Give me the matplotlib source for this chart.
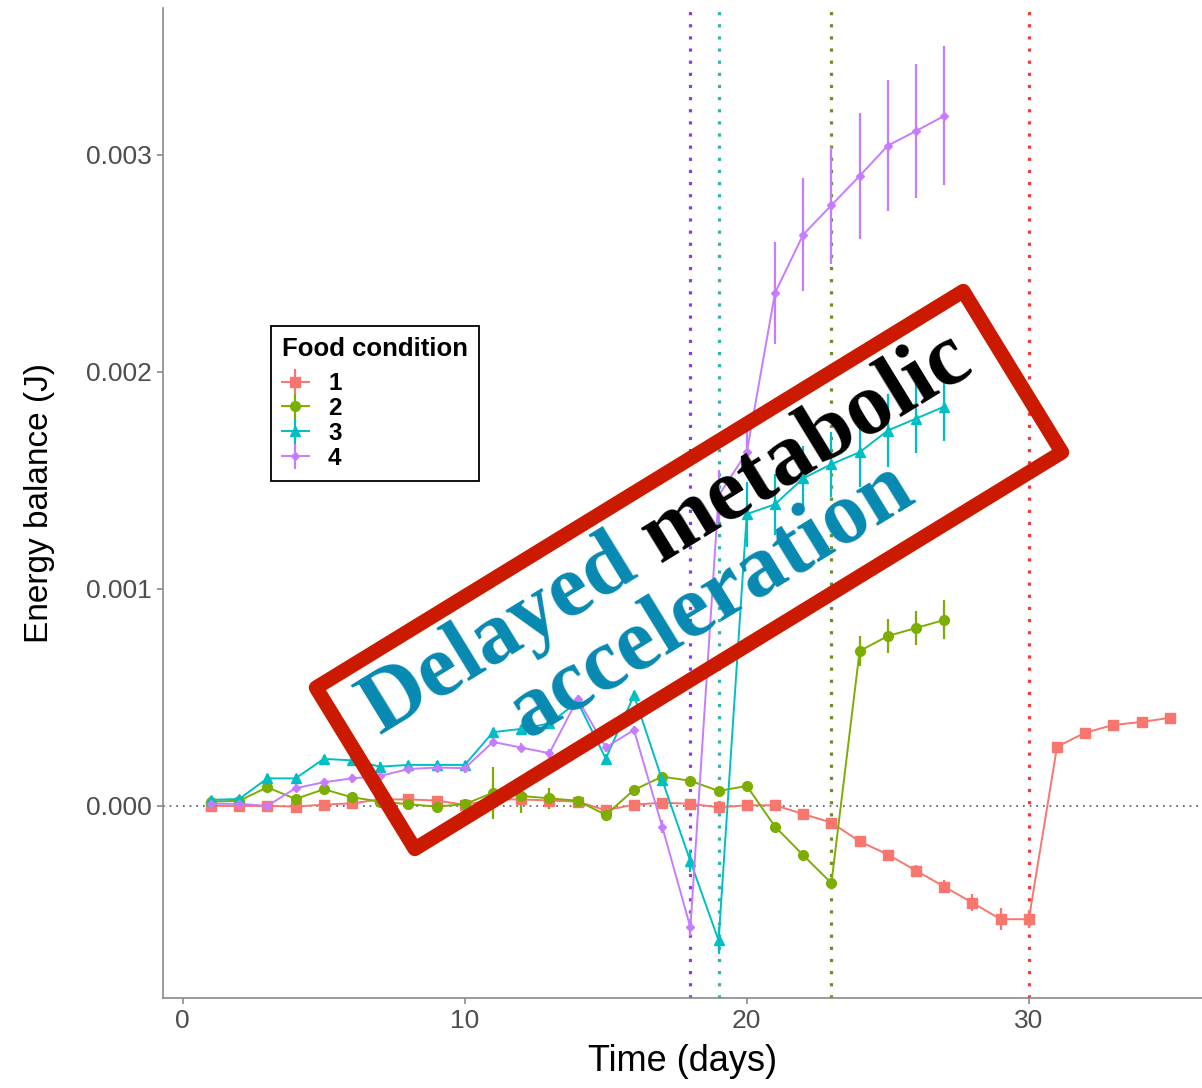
import numpy as np
import matplotlib
matplotlib.use("Agg")
import matplotlib.pyplot as plt
from matplotlib.patches import Polygon

plt.rcParams['font.family'] = ['Liberation Sans', 'DejaVu Sans']

# food condition 1 (35 days)
days1 = list(range(1, 36))
mean1 = [0.0, 0.0, 0.0, -0.000003, 0.000006, 0.000012, 0.00003, 0.00003, 0.000025, 0.000005,
         0.00003, 0.00003, 0.000025, 0.00002, -0.00002, 0.000006, 0.000015, 0.00001, -0.000006, 0.000003,
         0.000003, -0.000037, -0.000077, -0.000163, -0.000224, -0.000298, -0.000372, -0.000446, -0.000522, -0.000522,
         0.000273, 0.000338, 0.000373, 0.000387, 0.000406]
se1 = [0.00001] * 23 + [0.000015, 0.00002, 0.000025, 0.00003, 0.00004, 0.00005, 0.00004,
                        0.00002, 0.00002, 0.00002, 0.00002, 0.00002]

# food condition 2..4 (27 days)
days = list(range(1, 28))
mean2 = [0.00002, 0.000024, 0.000086, 0.000032, 0.000077, 0.00004, 0.00002, 0.000008, -0.000003, 0.000008,
         0.000061, 0.000046, 0.000035, 0.000024, -0.000041, 0.000074, 0.000135, 0.000116, 0.000069, 0.000092,
         -0.000095, -0.000227, -0.000356, 0.000714, 0.000783, 0.00082, 0.000857]
se2 = [0.00002] * 10 + [0.00012, 0.00008, 0.00005] + [0.00002] * 10 + [0.00007, 0.00008, 0.00008, 0.00009]

mean3 = [0.000028, 0.000032, 0.000127, 0.000127, 0.000217, 0.00021, 0.000181, 0.000189, 0.000189, 0.000189,
         0.00034, 0.000355, 0.00038, 0.00048, 0.000218, 0.00051, 0.00012, -0.000255, -0.00062, 0.001345,
         0.00139, 0.00151, 0.001575, 0.00163, 0.00173, 0.001785, 0.00184]
se3 = [0.00002] * 17 + [0.00005, 0.00006, 0.00015, 0.00014, 0.00015, 0.00015, 0.00016, 0.00017, 0.00016, 0.00016]

mean4 = [0.00001, 0.00001, 0.0, 0.000082, 0.000109, 0.000127, 0.000138, 0.00017, 0.000177, 0.000174,
         0.000295, 0.000269, 0.000243, 0.000493, 0.00027, 0.00035, -0.000095, -0.00056, 0.00143, 0.00163,
         0.002364, 0.002633, 0.002768, 0.002903, 0.003043, 0.00311, 0.00318]
se4 = [0.00002] * 16 + [0.00003, 0.00004, 0.00012, 0.0001, 0.000234, 0.00026, 0.00027, 0.00029, 0.0003, 0.00031, 0.00032]

colors = ['#F8766D', '#7CAE00', '#00BFC4', '#C77CFF']
markers = ['s', 'o', '^', 'D']
msizes = [7.5, 7, 7.5, 4.5]
labels = ['1', '2', '3', '4']

# day each condition switched
switch_days = [18, 19, 23, 30]
switch_colors = ['#8B3BE8', '#2FB5AD', '#6B8E23', '#F03C3C']

W, H = 1202, 1088
fig = plt.figure(figsize=(W / 100, H / 100), dpi=100)
ax = fig.add_axes([163 / W, 1 - 998 / H, (W - 163) / W, (998 - 8) / H])

ax.axhline(0, color='#555555', lw=1.2, ls=(0, (1, 3)), zorder=1)
for d, c in zip(switch_days, switch_colors):
    ax.axvline(d, color=c, lw=2.3, ls=(0, (1, 2.8)), zorder=1)

series = [(days1, mean1, se1), (days, mean2, se2), (days, mean3, se3), (days, mean4, se4)]
for (x, y, e), c, m, ms, lab in zip(series, colors, markers, msizes, labels):
    ax.errorbar(x, y, yerr=e, color=c, marker=m, ms=ms, lw=1.4, elinewidth=1.6,
                capsize=0, label=lab, zorder=3)

ax.set_xlim(-0.7, 36.14)
ax.set_ylim(-0.000885, 0.003677)
ax.set_xticks([0, 10, 20, 30])
ax.set_yticks([0, 0.001, 0.002, 0.003])
ax.set_yticklabels(['0.000', '0.001', '0.002', '0.003'])
for s in ['top', 'right']:
    ax.spines[s].set_visible(False)
for s in ['left', 'bottom']:
    ax.spines[s].set_color('#8a8a8a')
    ax.spines[s].set_linewidth(1.2)
ax.tick_params(colors='#8a8a8a', labelcolor='#4D4D4D', labelsize=19, length=4, width=1.2, pad=4)
ax.set_xlabel('Time (days)', fontsize=26, labelpad=8)
ax.set_ylabel('Energy balance (J)', fontsize=24, labelpad=22)

leg = ax.legend(title='Food condition', loc='upper left',
                bbox_to_anchor=(271 / W, 1 - 326 / H), bbox_transform=fig.transFigure,
                borderaxespad=0, fancybox=False, edgecolor='black', framealpha=1,
                prop={'weight': 'bold', 'size': 17.5}, handlelength=1.1, handletextpad=0.8,
                labelspacing=0.08, borderpad=0.45)
leg.get_title().set_fontweight('bold')
leg.get_title().set_fontsize(18.5)
leg.get_frame().set_linewidth(1.3)
leg._legend_box.align = 'left'
leg._legend_box.sep = 8

# stamp overlay, built in pixel space (y down) then turned into figure fraction
def px(x, y):
    return (x / W, 1 - y / H)


ang = np.deg2rad(31.5)
u = np.array([np.cos(ang), -np.sin(ang)])
v = np.array([np.sin(ang), np.cos(ang)])
cx, cy = 689, 570
hw, hh = 759 / 2, 189 / 2
corners = [np.array([cx, cy]) + a * hw * u + b * hh * v for a, b in [(-1, -1), (1, -1), (1, 1), (-1, 1)]]
box = Polygon([px(*p) for p in corners], closed=True, transform=fig.transFigure,
              facecolor='none', edgecolor='#CC1A00', lw=10.5, joinstyle='round', zorder=10)
fig.add_artist(box)

blue = '#0789B2'
tfont = dict(family=['Liberation Serif', 'DejaVu Serif'], weight='bold', size=64)
P = np.array([645, 572])
p1 = P - 5 * u
p2 = P + 17 * u
fig.text(*px(*p1), 'Delayed', color=blue, ha='right', va='baseline', rotation=31.5,
         rotation_mode='anchor', zorder=11, **tfont)
fig.text(*px(*p2), 'metabolic', color='black', ha='left', va='baseline', rotation=31.5,
         rotation_mode='anchor', zorder=11, **tfont)
fig.text(*px(722, 619), 'acceleration', color=blue, ha='center', va='baseline', rotation=31.5,
         rotation_mode='anchor', zorder=11, **tfont)

fig.savefig('out.png', dpi=100)
